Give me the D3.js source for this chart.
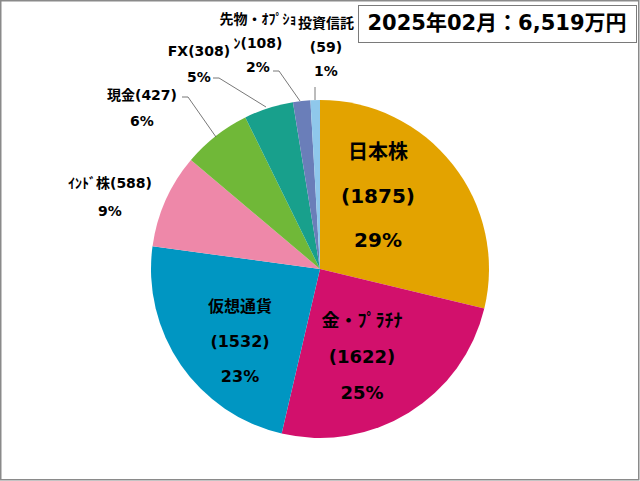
<!DOCTYPE html>
<html>
<head>
<meta charset="utf-8">
<script src="https://cdn.jsdelivr.net/npm/d3@7"></script>
<style>
  body { margin: 0; background: #fff; }
  text { font-family: "DejaVu Sans", "Noto Sans CJK JP", sans-serif; font-weight: bold; fill: #000; }
</style>
</head>
<body>
<div id="chart"></div>
<script>
// values (万円)
const names = ["日本株", "金・ﾌﾟﾗﾁﾅ", "仮想通貨", "ｲﾝﾄﾞ株", "現金", "FX", "先物・ｵﾌﾟｼｮﾝ", "投資信託"];
const amounts = [1875, 1622, 1532, 588, 427, 308, 108, 59];
// percent labels as printed in the chart
const pcts = [29, 25, 23, 9, 6, 5, 2, 1];
const colors = ["#E3A300", "#D2106C", "#0096C2", "#EE88A9", "#70B838", "#18A08C", "#6A7EB9", "#8FC8EB"];
const titleText = "2025年02月：6,519万円";

const W = 640, H = 481;
const cx = 320, cy = 269, R = 169;

let svg = d3.select("#chart").append("svg")
    .attr("width", W)
    .attr("height", H);

// outer frame
svg.append("rect")
    .attr("x", 0.75).attr("y", 0.75)
    .attr("width", W - 2).attr("height", H - 2)
    .attr("fill", "#fff")
    .attr("stroke", "#8a8a8a")
    .attr("stroke-width", 1.5);

let data = names.map((n, i) => ({ name: n, value: amounts[i], pct: pcts[i], color: colors[i] }));

let pie = d3.pie().sort(null).value(d => d.value);
let arc = d3.arc().innerRadius(0).outerRadius(R);
let arcs = pie(data);

let g = svg.append("g").attr("transform", `translate(${cx},${cy})`);

g.selectAll("path")
    .data(arcs)
    .enter()
    .append("path")
    .attr("d", arc)
    .attr("fill", d => d.data.color);

// labels inside the big slices: offsets from center, line gap, font size
let inside = {
    "日本株": { x: 58, y: -116, gap: 44, size: 20 },
    "金・ﾌﾟﾗﾁﾅ": { x: 42, y: 53, gap: 36, size: 18 },
    "仮想通貨": { x: -80, y: 38, gap: 35, size: 16 }
};

arcs.forEach(a => {
    let p = inside[a.data.name];
    if (!p) return;
    let lines = [a.data.name, "(" + a.data.value + ")", a.data.pct + "%"];
    lines.forEach((t, i) => {
        g.append("text")
            .attr("x", p.x)
            .attr("y", p.y + i * p.gap)
            .attr("text-anchor", "middle")
            .attr("dominant-baseline", "middle")
            .style("font-size", p.size + "px")
            .text(t);
    });
});

// outside labels (absolute positions) and leader lines
let outside = {
    "ｲﾝﾄﾞ株": { lines: ["ｲﾝﾄﾞ株(588)"], x: 110, y: [184, 212], line: null },
    "現金": { lines: ["現金(427)"], x: 142, y: [96, 122], line: [[182, 97], [188, 97], [216, 137]] },
    "FX": { lines: ["FX(308)"], x: 199, y: [52, 78], line: [[213, 78], [219, 78], [266, 107]] },
    "先物・ｵﾌﾟｼｮﾝ": { lines: ["先物・ｵﾌﾟｼｮ", "ﾝ(108)"], x: 258, y: [20, 44, 68], line: [[273, 71], [279, 71], [300, 101]] },
    "投資信託": { lines: ["投資信託", "(59)"], x: 326, y: [24, 48, 72], line: [[315, 87], [315, 100]] }
};

arcs.forEach(a => {
    let o = outside[a.data.name];
    if (!o) return;
    let lines = o.lines.concat([a.data.pct + "%"]);
    lines.forEach((t, i) => {
        svg.append("text")
            .attr("x", o.x)
            .attr("y", o.y[i])
            .attr("text-anchor", "middle")
            .attr("dominant-baseline", "middle")
            .style("font-size", "14px")
            .text(t);
    });
    if (o.line) {
        svg.append("path")
            .attr("d", d3.line()(o.line))
            .attr("fill", "none")
            .attr("stroke", "#555")
            .attr("stroke-width", 0.8);
    }
});

// title box
svg.append("rect")
    .attr("x", 358.5).attr("y", 5.5)
    .attr("width", 278).attr("height", 37)
    .attr("fill", "#fff")
    .attr("stroke", "#7a7a7a")
    .attr("stroke-width", 1);

svg.append("text")
    .attr("x", 497)
    .attr("y", 24)
    .attr("text-anchor", "middle")
    .attr("dominant-baseline", "middle")
    .style("font-size", "21px")
    .text(titleText);
</script>
</body>
</html>
